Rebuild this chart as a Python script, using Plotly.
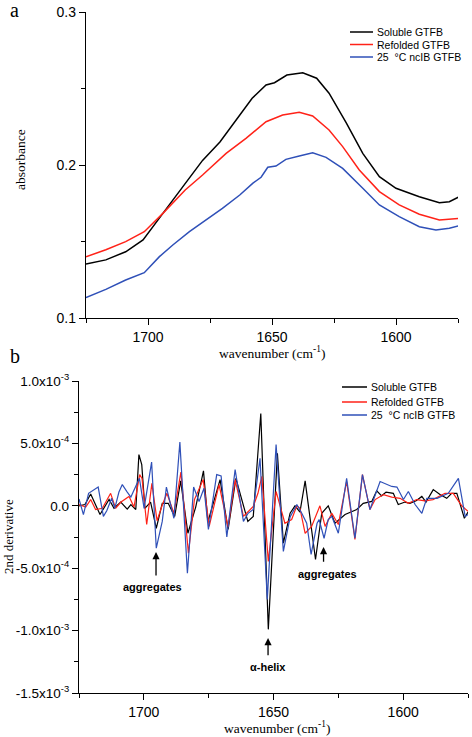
import plotly.graph_objects as go

# ---------------- Panel a: absorbance spectra ----------------
sol_wn = [1725, 1717, 1709, 1702, 1694, 1685, 1678, 1671, 1664.5, 1658, 1652.4, 1649, 1644, 1637.6,
          1632, 1627, 1620, 1613.4, 1606.7, 1600, 1590.6, 1582.5, 1578.5, 1574.5]
sol_abs = [0.1353, 0.138, 0.1433, 0.151, 0.1684, 0.188, 0.203, 0.215, 0.2294, 0.2436, 0.2523, 0.2538,
           0.2588, 0.2603, 0.2567, 0.2469, 0.2273, 0.2076, 0.1924, 0.1848, 0.1793, 0.1754, 0.176, 0.1793]

ref_wn = [1725, 1717, 1709, 1701.5, 1694, 1685, 1678, 1668.5, 1660.5, 1652.4, 1645.7, 1639, 1633.6,
          1627, 1621.5, 1614.8, 1606.7, 1598.7, 1590.6, 1582.5, 1574.5]
ref_abs = [0.140, 0.1446, 0.1499, 0.1564, 0.1684, 0.1837, 0.1935, 0.2076, 0.2174, 0.2283, 0.2327,
           0.2344, 0.2320, 0.2229, 0.212, 0.1967, 0.1826, 0.1739, 0.1678, 0.1641, 0.1651]

ncib_wn = [1725, 1717, 1709, 1701.5, 1695.4, 1690, 1683.3, 1676.6, 1670, 1663, 1657.8, 1654.4, 1651.7,
           1648.4, 1644.4, 1639, 1633.6, 1628.2, 1621.5, 1613.4, 1606.7, 1598.7, 1590.6, 1583.9,
           1578.5, 1574.5]
ncib_abs = [0.1133, 0.1187, 0.1248, 0.1296, 0.1401, 0.1477, 0.1564, 0.1641, 0.1717, 0.1804, 0.188,
            0.192, 0.1985, 0.1993, 0.2037, 0.2059, 0.2080, 0.205, 0.1978, 0.1848, 0.1739, 0.1662,
            0.1597, 0.1575, 0.1586, 0.1603]

# ---------------- Panel b: 2nd derivative (units of 1e-4) ----------------
sol_d2_wn = [1725.0, 1722.7, 1720.5, 1716.9, 1713.4, 1711.5, 1708.9, 1706.4, 1705.0, 1703.1, 1701.9,
             1700.8, 1699.6, 1697.4, 1695.2, 1692.9, 1690.6, 1688.1, 1685.8, 1683.0, 1680.0, 1677.0,
             1675.3, 1670.6, 1667.5, 1664.5, 1659.9, 1657.8, 1654.9, 1652.0, 1648.5, 1646.2, 1643.6,
             1641.7, 1639.8, 1637.8, 1633.8, 1631.4, 1628.9, 1626.3, 1622.4, 1617.9, 1615.4, 1612.1,
             1610.2, 1608.3, 1606.6, 1603.8, 1601.9, 1599.3, 1597.4, 1595.0, 1592.8, 1591.2, 1588.4,
             1585.8, 1583.2, 1581.3, 1579.3, 1576.4, 1575.0]
sol_d2 = [0.0, 0.1, 0.95, -0.7, 0.5, -0.2, 0.3, -0.27, 0.1, -0.3, 4.1,
          3.3, -0.2, 0.3, -1.8, 0.2, 0.2, -0.85, 2.0, -2.2, -0.1, 2.8,
          -1.3, 2.1, -1.9, 2.2, -1.25, -0.85, 7.4, -9.9, 4.2, -3.0, -0.6,
          0.0, -0.5, 2.0, -4.3, -0.6, 0.0, -1.4, -0.7, -0.3, 0.2, 0.35,
          1.2, 0.8, 1.1, 1.0, 0.1, 0.3, 0.2, 0.4, 0.75, 0.3, 1.3,
          0.9, 0.6, 1.0, 1.0, -1.0, -0.5]

ref_d2_wn = [1725.0, 1722.4, 1720.5, 1718.6, 1716.0, 1712.8, 1710.9, 1708.8, 1705.7, 1703.8, 1701.6,
             1700.7, 1698.9, 1696.9, 1694.9, 1693.0, 1691.1, 1688.4, 1685.7, 1682.8, 1680.5, 1677.1,
             1674.8, 1671.0, 1667.5, 1664.8, 1661.6, 1657.8, 1656.0, 1654.5, 1652.0, 1649.0, 1645.6,
             1643.0, 1641.0, 1639.8, 1637.8, 1635.3, 1632.1, 1630.1, 1627.5, 1625.0, 1621.8, 1618.6,
             1615.7, 1612.8, 1610.8, 1607.6, 1604.4, 1601.2, 1598.0, 1594.8, 1591.6, 1588.5, 1583.9,
             1580.7, 1577.4, 1575.0]
ref_d2 = [0.1, -0.1, 0.5, -0.3, -0.2, 1.0, -0.2, 0.3, 0.75, -0.1, 2.5,
          2.2, -1.5, 1.8, -1.2, 0.0, 1.0, -0.6, 2.7, -3.8, 0.5, 2.1,
          -1.65, 1.7, -1.7, 2.1, -0.85, -0.05, 1.0, 2.35, -4.45, 1.15, -1.4,
          -1.1, 0.0, -0.2, -2.2, -1.65, 0.0, -1.65, -0.6, -1.5, 1.95, -2.7,
          2.5, -0.3, 0.5, 0.9, 0.7, 0.6, 0.2, 0.5, 0.4, 0.5, 1.0,
          1.0, 0.0, -0.45]

ncib_d2_wn = [1725.0, 1723.3, 1721.3, 1719.2, 1717.6, 1715.6, 1714.3, 1712.4, 1711.2, 1709.6, 1708.3,
              1706.4, 1705.0, 1701.7, 1699.9, 1697.0, 1695.2, 1692.9, 1691.3, 1688.4, 1686.1, 1683.2,
              1680.8, 1678.7, 1676.8, 1675.1, 1671.9, 1670.2, 1668.0, 1664.8, 1661.6, 1659.8, 1657.8,
              1655.2, 1652.4, 1649.0, 1646.2, 1643.6, 1641.0, 1639.1, 1637.2, 1635.5, 1633.2, 1632.4,
              1630.5, 1628.9, 1627.5, 1625.0, 1621.8, 1618.6, 1615.7, 1612.8, 1608.9, 1604.4, 1602.4,
              1599.9, 1598.0, 1595.4, 1592.8, 1590.9, 1586.9, 1582.6, 1578.7, 1576.1, 1575.0]
ncib_d2 = [0.55, -0.7, 1.0, 1.3, 1.5, -0.85, -0.4, 0.6, -0.2, 1.1, 1.7,
           1.1, 0.7, 2.2, -0.2, 3.5, -3.4, -1.25, 1.5, -1.0, 5.1, -5.4,
           1.5, 0.35, 1.4, -1.9, 2.5, 2.4, -2.5, 2.9, -1.25, -0.6, -0.3,
           3.8, -7.5, 4.9, -3.65, -0.9, 0.1, -0.6, -1.4, -3.9, -1.4, -1.1,
           -2.6, -1.1, -0.85, -2.2, 2.2, -2.6, 2.5, -0.3, 1.95, 1.55, 1.5,
           0.5, 1.15, 0.1, -0.6, 0.6, 0.6, 1.0, 2.2, -0.85, -0.7]

series_names = ["Soluble GTFB", "Refolded GTFB", "25 \u00a0°C ncIB GTFB"]
series_colors = ["#000000", "#ff2218", "#2f50b8"]

y_a_ticks = [0.1, 0.2, 0.3]
y_b_ticks = [-1.5e-3, -1.0e-3, -5.0e-4, 0.0, 5.0e-4, 1.0e-3]
y_b_ticktext = ["-1.5x10<sup>-3</sup>", "-1.0x10<sup>-3</sup>", "-5.0x10<sup>-4</sup>", "0.0",
                "5.0x10<sup>-4</sup>", "1.0x10<sup>-3</sup>"]
x_ticks = [1700, 1650, 1600]

W, H = 472, 737
def px(x):
    return x / W
def py(y):
    return 1 - y / H

fig = go.Figure()
for wn, ab, name, col in zip([sol_wn, ref_wn, ncib_wn], [sol_abs, ref_abs, ncib_abs],
                             series_names, series_colors):
    fig.add_trace(go.Scatter(x=wn, y=ab, mode="lines", name=name, xaxis="x", yaxis="y",
                             line=dict(color=col, width=1.5), showlegend=False))
for wn, d2, name, col in zip([sol_d2_wn, ref_d2_wn, ncib_d2_wn], [sol_d2, ref_d2, ncib_d2],
                             series_names, series_colors):
    fig.add_trace(go.Scatter(x=wn, y=[v * 1e-4 for v in d2], mode="lines", name=name,
                             xaxis="x2", yaxis="y2", line=dict(color=col, width=1.2),
                             showlegend=False))

tick_font = dict(family="Liberation Sans, Arial, sans-serif", size=14, color="black")
axis_common = dict(showline=True, linecolor="black", linewidth=1.3, ticks="outside", ticklen=6,
                   tickwidth=1.3, tickcolor="black", showgrid=False, zeroline=False,
                   tickfont=tick_font, mirror=False, automargin=False)

fig.update_layout(
    width=W, height=H, margin=dict(l=0, r=0, t=0, b=0, autoexpand=False),
    paper_bgcolor="white", plot_bgcolor="white",
    xaxis=dict(domain=[px(86), px(458)], range=[1725, 1575], anchor="y", tickvals=x_ticks,
               minor=dict(tickvals=[1725, 1675, 1625, 1575], ticklen=4, tickwidth=1.3,
                          tickcolor="black", ticks="outside", showgrid=False),
               **axis_common),
    yaxis=dict(domain=[py(318), py(12)], range=[0.1, 0.3], anchor="x", tickvals=y_a_ticks,
               ticktext=["0.1", "0.2", "0.3"],
               minor=dict(tickvals=[0.15, 0.25], ticklen=4, tickwidth=1.3, tickcolor="black",
                          ticks="outside", showgrid=False),
               **axis_common),
    xaxis2=dict(domain=[px(79), px(468)], range=[1725, 1575], anchor="y2", tickvals=x_ticks,
                minor=dict(tickvals=[1725, 1675, 1625, 1575], ticklen=4, tickwidth=1.3,
                           tickcolor="black", ticks="outside", showgrid=False),
                **axis_common),
    yaxis2=dict(domain=[py(693), py(381)], range=[-1.5e-3, 1.0e-3], anchor="x2",
                tickvals=y_b_ticks, ticktext=y_b_ticktext,
                tickfont=dict(family="Liberation Sans, Arial, sans-serif", size=13.5,
                              color="black"),
                minor=dict(tickvals=[-1.25e-3, -7.5e-4, -2.5e-4, 2.5e-4, 7.5e-4], ticklen=4,
                           tickwidth=1.3, tickcolor="black", ticks="outside", showgrid=False),
                **{k: v for k, v in axis_common.items() if k != "tickfont"}),
    showlegend=False,
)

serif = "Liberation Serif, Times New Roman, serif"
sans = "Liberation Sans, Arial, sans-serif"
ann = []
def label(text, x, y, size, family, angle=0, xanchor="center"):
    ann.append(dict(text=text, x=px(x), y=py(y), xref="paper", yref="paper", showarrow=False,
                    xanchor=xanchor, yanchor="middle", textangle=angle,
                    font=dict(family=family, size=size, color="black")))

label("a", 14, 10, 20, serif)
label("b", 15, 356, 20, serif)
label("absorbance", 20, 160, 13.5, serif, angle=-90)
label("wavenumber (cm<sup>-1</sup>)", 272, 352, 13.5, serif)
label("2nd derivative", 8, 537, 13, serif, angle=-90)
label("wavenumber (cm<sup>-1</sup>)", 277, 727, 13.5, serif)

# manual legends
shapes = []
for rows, x0, x1 in [([32, 44.5, 57], 350, 373), ([387, 402, 415], 342, 367)]:
    for yy, name, col in zip(rows, series_names, series_colors):
        shapes.append(dict(type="line", xref="paper", yref="paper", x0=px(x0), x1=px(x1),
                           y0=py(yy), y1=py(yy), line=dict(color=col, width=1.5)))
        label(name, x1 + 2, yy, 10.5, sans, xanchor="left")

# panel b annotations (arrows + labels)
bold_font = dict(family=sans, size=11, color="black")
for (hx, hy, tx, ty) in [(1695.3, -3.7e-4, 1695.3, -5.7e-4),
                         (1630.7, -3.3e-4, 1630.7, -4.6e-4),
                         (1652.1, -10.6e-4, 1652.1, -12.1e-4)]:
    ann.append(dict(x=hx, y=hy, ax=tx, ay=ty, xref="x2", yref="y2", axref="x2", ayref="y2",
                    text="", showarrow=True, arrowhead=2, arrowsize=1.1, arrowwidth=1.3,
                    arrowcolor="black"))
for text, x, y in [("<b>aggregates</b>", 1696.5, -6.5e-4), ("<b>aggregates</b>", 1629.2, -5.5e-4),
                   ("<b>\u03b1-helix</b>", 1652.1, -12.95e-4)]:
    ann.append(dict(text=text, x=x, y=y, xref="x2", yref="y2", showarrow=False,
                    xanchor="center", yanchor="middle", font=bold_font))

fig.update_layout(annotations=ann, shapes=shapes)
fig.write_html("out.html", config={"displayModeBar": False},
               post_script="document.body.style.margin='0';document.body.style.overflow='hidden';")
